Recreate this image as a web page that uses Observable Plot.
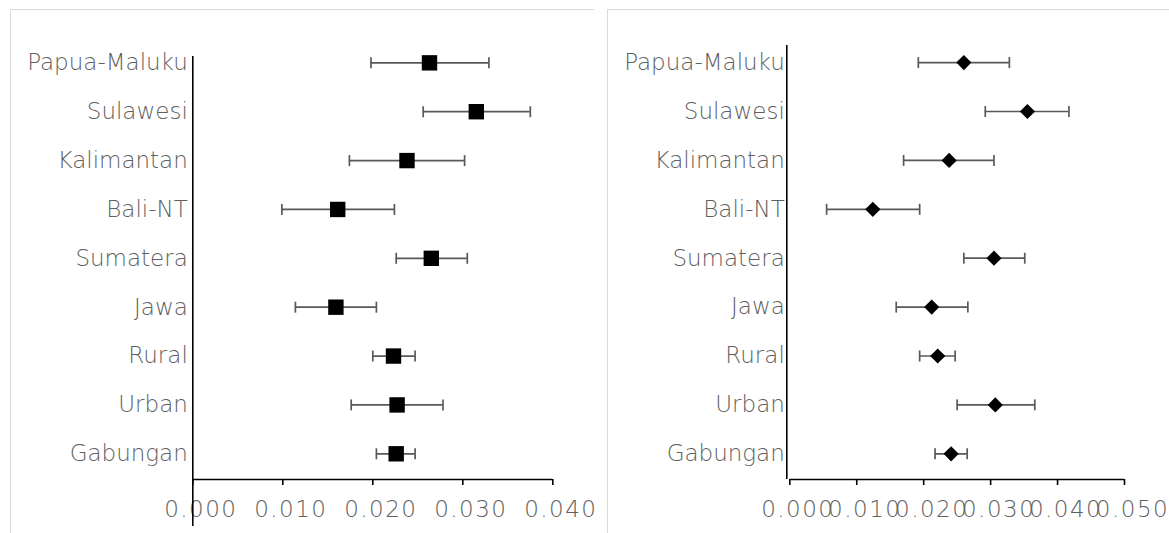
<!DOCTYPE html>
<html>
<head>
<meta charset="utf-8">
<script src="https://cdn.jsdelivr.net/npm/d3@7"></script>
<script src="https://cdn.jsdelivr.net/npm/@observablehq/plot@0.6"></script>
<style>
  html, body { margin: 0; padding: 0; background: #fff; }
  #wrap { position: relative; width: 1169px; height: 533px; overflow: hidden; background: #fff; }
  .panel-border { position: absolute; border-left: 1px solid #d9d9d9; border-top: 1px solid #d9d9d9; height: 600px; }
  .chart { position: absolute; top: 0; }
  .chart svg { overflow: visible; }
  .xtick text { letter-spacing: 1.5px; }
</style>
</head>
<body>
<div id="wrap">
  <div class="panel-border" style="left:10px; top:9px; width:583px;"></div>
  <div class="panel-border" style="left:607px; top:9px; width:600px;"></div>
  <div id="left" class="chart" style="left:0px;"></div>
  <div id="right" class="chart" style="left:600px;"></div>
</div>
<script>
// Regions and groups, listed from top to bottom
const categories = ["Papua-Maluku", "Sulawesi", "Kalimantan", "Bali-NT", "Sumatera", "Jawa", "Rural", "Urban", "Gabungan"];

// Left panel: point estimate with lower / upper bound
const leftEstimate = [0.0263, 0.0315, 0.0238, 0.0161, 0.0265, 0.0159, 0.0223, 0.0227, 0.0226];
const leftLower    = [0.0198, 0.0256, 0.0174, 0.0099, 0.0226, 0.0114, 0.0200, 0.0176, 0.0204];
const leftUpper    = [0.0329, 0.0375, 0.0302, 0.0224, 0.0305, 0.0204, 0.0247, 0.0278, 0.0247];

// Right panel: point estimate with lower / upper bound
const rightEstimate = [0.0260, 0.0355, 0.0238, 0.0124, 0.0305, 0.0212, 0.0221, 0.0307, 0.0241];
const rightLower    = [0.0192, 0.0292, 0.0170, 0.0055, 0.0260, 0.0159, 0.0194, 0.0250, 0.0217];
const rightUpper    = [0.0328, 0.0417, 0.0305, 0.0194, 0.0351, 0.0266, 0.0247, 0.0366, 0.0265];

const leftTicks  = [0, 0.01, 0.02, 0.03, 0.04];
const rightTicks = [0, 0.01, 0.02, 0.03, 0.04, 0.05];

const n = categories.length;
// Row position: first category on top (n) down to the last (1)
const rowsOf = (est, lo, hi) => categories.map((c, i) => ({category: c, pos: n - i, est: est[i], lo: lo[i], hi: hi[i]}));

const FONT = "DejaVu Sans";
const TEXT = "#606060";
const BAR = "#595959";

// Vertical end-cap for the error bars
const capSymbol = {draw(ctx) { ctx.moveTo(0, -5.5); ctx.lineTo(0, 5.5); }};
// Square marker
const squareSymbol = {draw(ctx) { const h = 7.7; ctx.moveTo(-h, -h); ctx.lineTo(h, -h); ctx.lineTo(h, h); ctx.lineTo(-h, h); ctx.closePath(); }};
// Diamond marker (square turned 45 degrees)
const diamondSymbol = {draw(ctx) { const h = 7.6; ctx.moveTo(0, -h); ctx.lineTo(h, 0); ctx.lineTo(0, h); ctx.lineTo(-h, 0); ctx.closePath(); }};

function panel({rows, ticks, xMax, yMin, yMax, width, marginLeft, marginRight, marginTop, symbol, axisExtend, axisDx}) {
  const label = d => categories[n - d];
  return Plot.plot({
    width, height: 533,
    marginLeft, marginRight, marginTop, marginBottom: 54,
    style: {fontFamily: FONT, fontSize: "23px", fontWeight: 200, color: TEXT, background: "transparent"},
    x: {domain: [0, xMax], axis: null},
    y: {domain: [yMin, yMax], axis: null},
    marks: [
      // value axis: baseline, tick marks, then the labels
      Plot.ruleY([yMin], {stroke: "#000", strokeWidth: 1.6}),
      Plot.axisX(ticks, {anchor: "bottom", tickSize: 6, stroke: "#000", strokeWidth: 1.6,
        tickFormat: () => "", label: null}),
      Plot.axisX(ticks, {anchor: "bottom", tickSize: 0, tickPadding: 21, fill: TEXT,
        tickFormat: d3.format(".3f"), dx: 8, label: null, className: "xtick"}),
      // category axis
      Plot.ruleX([0], {y1: axisExtend, y2: yMax, dx: axisDx, stroke: "#000", strokeWidth: 1.6}),
      Plot.axisY(d3.range(1, n + 1), {anchor: "left", tickSize: 0, tickPadding: 5, fill: TEXT,
        tickFormat: label, label: null}),
      // error bars
      Plot.ruleY(rows, {y: "pos", x1: "lo", x2: "hi", stroke: BAR, strokeWidth: 1.7}),
      Plot.dot(rows, {x: "lo", y: "pos", symbol: capSymbol, fill: "none", stroke: BAR, strokeWidth: 1.7}),
      Plot.dot(rows, {x: "hi", y: "pos", symbol: capSymbol, fill: "none", stroke: BAR, strokeWidth: 1.7}),
      // estimates
      Plot.dot(rows, {x: "est", y: "pos", symbol, fill: "#000", stroke: "none"})
    ]
  });
}

document.getElementById("left").append(panel({
  rows: rowsOf(leftEstimate, leftLower, leftUpper),
  ticks: leftTicks, xMax: 0.04, yMin: 0.474, yMax: 9.13,
  width: 594, marginLeft: 192.3, marginRight: 41.7, marginTop: 56,
  symbol: squareSymbol, axisExtend: -0.487, axisDx: 0
}));

document.getElementById("right").append(panel({
  rows: rowsOf(rightEstimate, rightLower, rightUpper),
  ticks: rightTicks, xMax: 0.05, yMin: 0.474, yMax: 9.35,
  width: 569, marginLeft: 189.3, marginRight: 45, marginTop: 45,
  symbol: diamondSymbol, axisExtend: 0.474, axisDx: -3
}));
</script>
</body>
</html>
